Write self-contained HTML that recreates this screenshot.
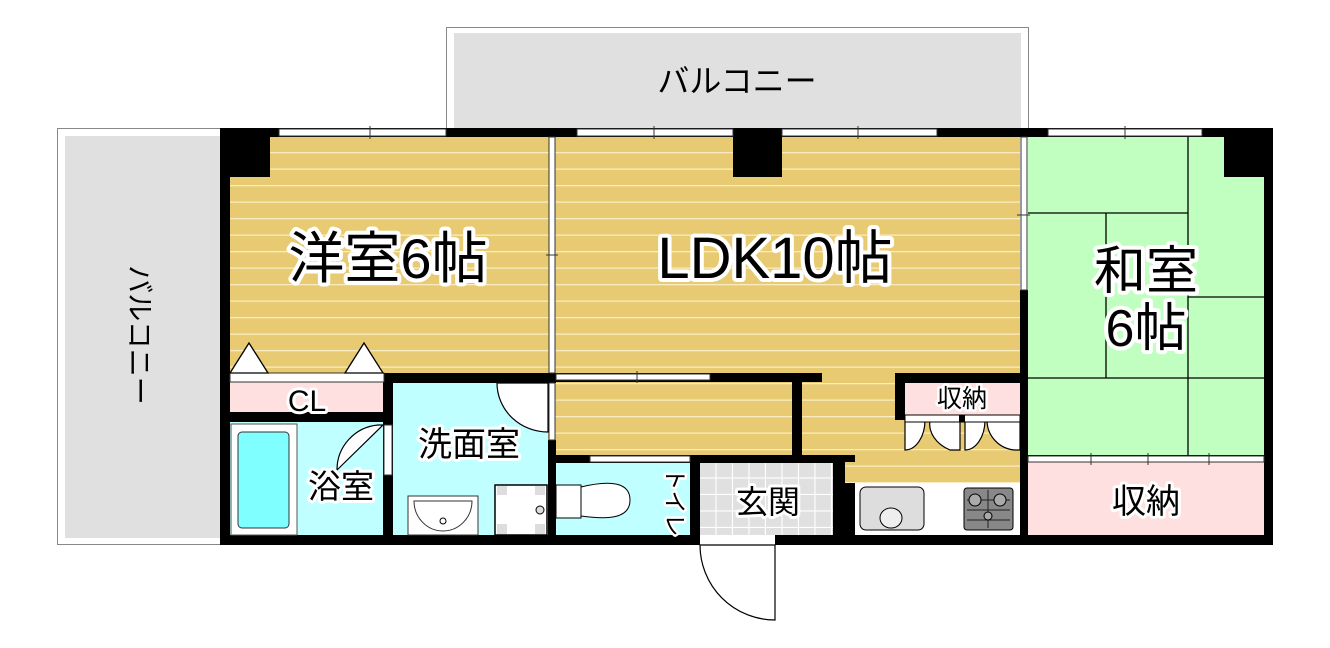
<!DOCTYPE html>
<html><head><meta charset="utf-8"><style>
html,body{margin:0;padding:0;background:#fff;}
svg{display:block;}
text{font-family:"Liberation Sans","Noto Sans CJK JP",sans-serif;}
.lbl{paint-order:stroke;stroke:#fff;stroke-linejoin:round;fill:#000;}
</style></head><body>
<svg width="1330" height="648" viewBox="0 0 1330 648" xmlns="http://www.w3.org/2000/svg">
<defs>
<pattern id="wood" width="10" height="16.5" patternUnits="userSpaceOnUse" y="137">
<rect width="10" height="16.5" fill="#e8ca72"/><rect y="15" width="10" height="1.3" fill="#f8ecc0"/>
</pattern>
<pattern id="tile" width="16.5" height="16.5" patternUnits="userSpaceOnUse" x="700" y="462">
<rect width="16.5" height="16.5" fill="#e0e0e0"/><path d="M16 0V16.5M0 16H16.5" stroke="#fff" stroke-width="1.2"/>
</pattern>
</defs>
<rect x="446.5" y="27.5" width="582" height="102" fill="#fff" stroke="#888"/>
<rect x="454" y="33" width="567" height="96" fill="#e0e0e0"/>
<rect x="57.5" y="128.5" width="164" height="416" fill="#fff" stroke="#888"/>
<rect x="65" y="136" width="156" height="402" fill="#e0e0e0"/>
<text x="737" y="92" font-size="32" text-anchor="middle">バルコニー</text>
<text transform="translate(130,335) rotate(90)" font-size="28" text-anchor="middle">バルコニー</text>
<rect x="230" y="137" width="790" height="348" fill="url(#wood)"/>
<rect x="1028" y="137" width="236" height="320" fill="#c0ffc0"/>
<path d="M1188 137V455M1028 213H1188M1106 213V378M1188 297H1264M1028 378H1264" stroke="#000" stroke-width="1.3" fill="none"/>
<rect x="1028" y="462" width="236" height="73" fill="#ffe0e0"/>
<rect x="230" y="382" width="153" height="30" fill="#ffe0e0"/>
<rect x="230" y="422" width="155" height="113" fill="#c0ffff"/>
<rect x="393" y="383" width="155" height="152" fill="#c0ffff"/>
<rect x="556" y="462" width="134" height="73" fill="#c0ffff"/>
<rect x="700" y="462" width="133" height="73" fill="url(#tile)"/>
<rect x="905" y="383" width="115" height="32" fill="#ffe0e0"/>
<rect x="855" y="483" width="165" height="52" fill="#fff"/>
<g fill="#000">
<rect x="220" y="128" width="1053" height="9"/>
<rect x="220" y="128" width="10" height="417"/>
<rect x="1264" y="128" width="9" height="417"/>
<rect x="220" y="535" width="480" height="10"/>
<rect x="775" y="535" width="498" height="10"/>
<rect x="220" y="128" width="50" height="49"/>
<rect x="733" y="128" width="49" height="49"/>
<rect x="1224" y="128" width="49" height="49"/>
<rect x="220" y="412" width="170" height="10"/>
<rect x="383" y="373" width="10" height="172"/>
<rect x="383" y="373" width="173" height="10"/>
<rect x="548" y="440" width="8" height="105"/>
<rect x="556" y="373" width="266" height="9"/>
<rect x="792" y="373" width="10" height="90"/>
<rect x="556" y="455" width="290" height="8"/>
<rect x="690" y="455" width="10" height="90"/>
<rect x="833" y="455" width="22" height="90"/>
<rect x="843" y="462" width="12" height="21" />
<rect x="895" y="373" width="125" height="10"/>
<rect x="895" y="373" width="10" height="47"/>
<rect x="1020" y="290" width="8" height="255"/>
<rect x="1020" y="455" width="253" height="7"/>
</g>
<rect x="845" y="462" width="10" height="21" fill="url(#wood)"/>
<g fill="#fff" stroke="#333" stroke-width="1">
<rect x="279" y="129" width="167" height="7"/><rect x="577" y="129" width="156" height="7"/>
<rect x="782" y="129" width="155" height="7"/><rect x="1048" y="129" width="154" height="7"/>
<rect x="549" y="137" width="6" height="236"/><rect x="1021" y="137" width="6" height="153"/>
<rect x="556" y="374" width="154" height="6"/><rect x="1028" y="456" width="236" height="6"/>
<rect x="590" y="456" width="100" height="6"/>
</g>
<path d="M370 126V139M654 126V139M858 126V139M1125 126V139M546 255H558M1017 215H1030M637 371V383M1091 453V465M1148 453V465M1209 453V465" stroke="#333" stroke-width="1"/>
<rect x="549" y="383" width="6" height="57" fill="#fff" stroke="#333"/>
<rect x="384" y="425" width="8" height="50" fill="#fff" stroke="#333"/>
<rect x="230" y="373" width="154" height="9" fill="#fff" stroke="#333"/>
<path d="M230 373L249 343L268 373Z M345 373L364 343L383 373Z" fill="#fff" stroke="#000" stroke-width="1.3"/>
<g fill="#fff" stroke="#000" stroke-width="1.2">
<path d="M548 383V432A51 49 0 0 1 497 383Z"/>
<path d="M383 425H378A45 45 0 0 0 337 470Z" />
<path d="M775 545V620A75 75 0 0 1 700 545Z"/>
<path d="M905 420H960V450H950A40 30 0 0 1 930 420H925A20 30 0 0 1 905 450Z"/>
<path d="M965 420H1020V450H1015A30 30 0 0 1 987 420H985A20 30 0 0 1 965 450Z"/>
</g>
<rect x="905" y="415" width="115" height="7" fill="#fff" stroke="#000"/>
<rect x="959" y="415" width="6" height="7" fill="#000"/>
<rect x="231" y="424" width="66" height="111" fill="#fff" stroke="#555"/>
<rect x="238" y="432" width="51" height="96" rx="4" fill="#7fffff" stroke="#333"/>
<rect x="408" y="496" width="70" height="39" fill="#fff" stroke="#333"/>
<path d="M414 501H472A29 30 0 0 1 414 501Z" fill="#fff" stroke="#333"/>
<circle cx="443" cy="521" r="3" fill="#fff" stroke="#000"/>
<rect x="495" y="485" width="52" height="50" fill="#fff" stroke="#000" stroke-width="1.5"/>
<rect x="497" y="486" width="10" height="9" fill="#ddd"/><rect x="535" y="486" width="10" height="9" fill="#ddd"/>
<rect x="497" y="524" width="10" height="10" fill="#ddd"/><rect x="535" y="524" width="10" height="10" fill="#ddd"/>
<circle cx="540" cy="510" r="4" fill="#ddd" stroke="#000"/>
<rect x="556" y="485" width="25" height="33" fill="#fff" stroke="#000"/>
<path d="M581 487C610 480 630 482 630 500C630 518 610 520 581 516Z" fill="#fff" stroke="#000"/>
<rect x="860" y="487" width="64" height="43" rx="6" fill="#ddd" stroke="#000"/>
<ellipse cx="891" cy="518" rx="11" ry="10" fill="#eee" stroke="#000"/>
<rect x="964" y="488" width="49" height="42" rx="3" fill="#888" stroke="#000"/>
<path d="M967 500H1010M967 510H1010M967 520H1010M988 490V528" stroke="#222"/>
<circle cx="975" cy="500" r="6" fill="#aaa" stroke="#000"/><circle cx="1000" cy="500" r="6" fill="#aaa" stroke="#000"/><circle cx="988" cy="516" r="4" fill="#aaa" stroke="#000"/>
<g class="lbl">
<text x="388" y="278" font-size="56" stroke-width="8" text-anchor="middle">洋室6帖</text>
<text x="775" y="278" font-size="58" stroke-width="8" text-anchor="middle">LDK10帖</text>
<text x="1146" y="289" font-size="52" stroke-width="8" text-anchor="middle">和室</text>
<text x="1146" y="346" font-size="52" stroke-width="8" text-anchor="middle">6帖</text>
<text x="307" y="411" font-size="30" stroke-width="6" text-anchor="middle">CL</text>
<text x="341" y="498" font-size="33" stroke-width="6" text-anchor="middle">浴室</text>
<text x="469" y="456" font-size="34" stroke-width="6" text-anchor="middle">洗面室</text>
<text x="768" y="513" font-size="32" stroke-width="6" text-anchor="middle">玄関</text>
<text x="962" y="407" font-size="25" stroke-width="5" text-anchor="middle">収納</text>
<text x="1146" y="513" font-size="34" stroke-width="6" text-anchor="middle">収納</text>
<text transform="translate(667,502) rotate(90)" font-size="23" stroke-width="5" text-anchor="middle">トイレ</text>
</g>
</svg>
</body></html>
